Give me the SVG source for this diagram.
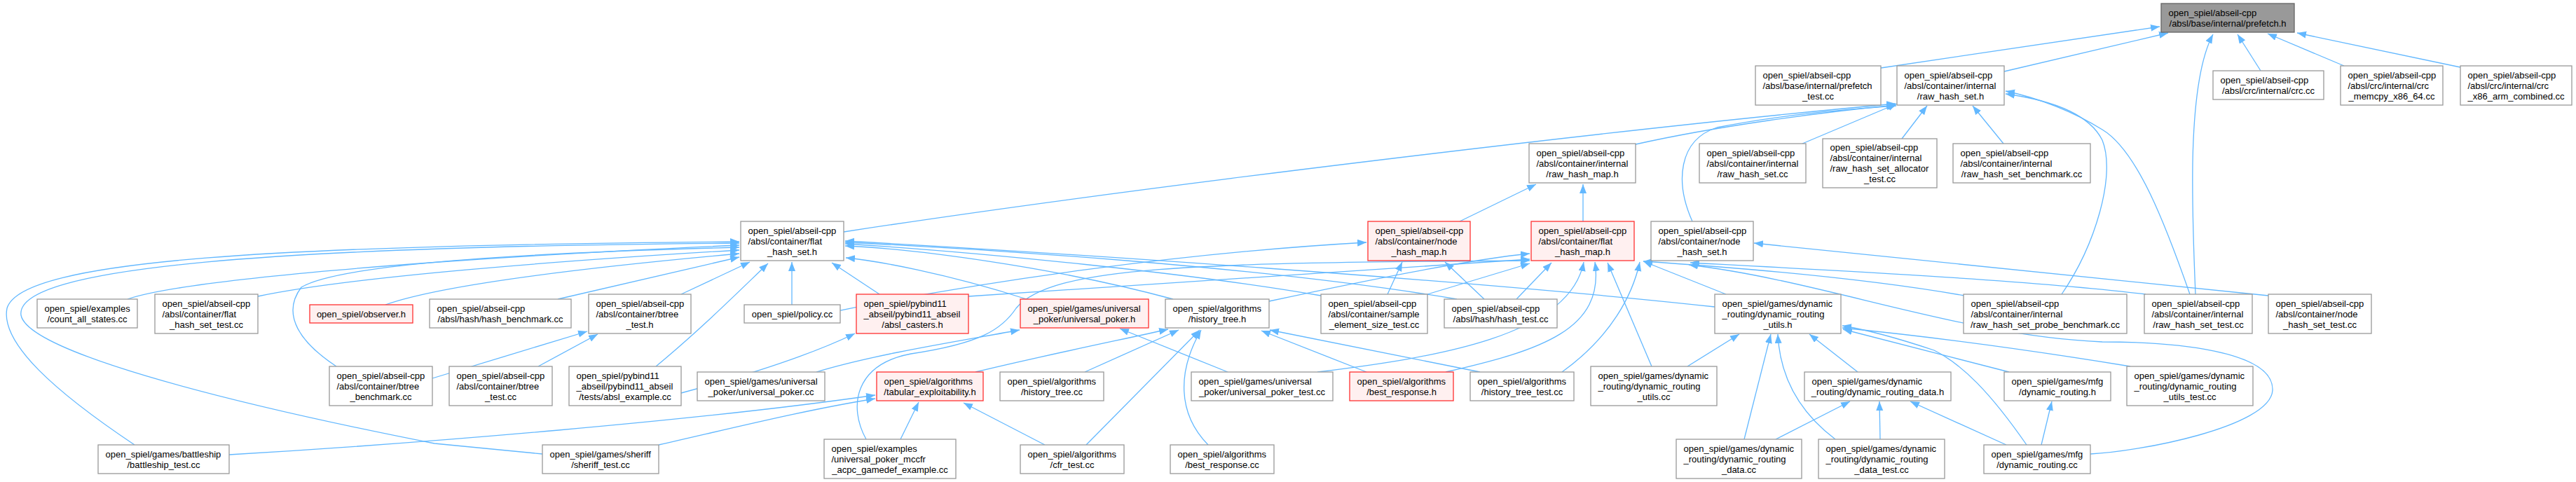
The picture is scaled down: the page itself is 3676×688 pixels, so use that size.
<svg xmlns="http://www.w3.org/2000/svg" width="3676" height="688" viewBox="0 0 3676 688">
<defs>
<style>
.n rect{fill:#ffffff;stroke:#999999;stroke-width:1.3}
.r rect{fill:#fff0f0;stroke:#ff3030;stroke-width:1.3}
.g rect{fill:#999999;stroke:#666666;stroke-width:1.3}
text{font-family:"Liberation Sans",Arial,Helvetica,sans-serif;font-size:13px;fill:#000000}
.c{text-anchor:middle}
.e path{fill:none;stroke:#63b8ff;stroke-width:1.3;marker-end:url(#a)}
</style>
<marker id="a" markerWidth="14" markerHeight="11" refX="13" refY="5" orient="auto" markerUnits="userSpaceOnUse"><path d="M0,0L13,5L0,10z" fill="#63b8ff" stroke="none"/></marker>
</defs>
<rect width="3676" height="688" fill="#ffffff"/>
<g id="edges" class="e">
<path d="M2684,97 L3082,38"/>
<path d="M2860,102 L3094,47"/>
<path d="M3133,420 C3128,300 3120,120 3158,49"/>
<path d="M3226,101 L3193,49"/>
<path d="M3345,94 L3236,48"/>
<path d="M3511,96 L3278,47"/>
<path d="M2572,205 L2707,148"/>
<path d="M2714,198 L2750,151"/>
<path d="M2859,205 L2815,151"/>
<path d="M2334,206 C2450,180 2600,160 2705,150"/>
<path d="M1204,331 C1600,270 2300,185 2705,148"/>
<path d="M2415,316 C2390,260 2395,200 2450,182 C2550,162 2650,155 2706,151"/>
<path d="M3125,420 C3090,320 3050,215 3000,185 C2960,160 2910,140 2862,130"/>
<path d="M2942,420 C2990,350 3020,250 3000,200 C2980,160 2920,142 2862,134"/>
<path d="M2083,316 L2192,263"/>
<path d="M2259,316 L2259,263"/>
<path d="M182,427 C260,400 600,370 1055,350"/>
<path d="M368,423 C500,395 800,372 1055,357"/>
<path d="M550,435 C620,410 800,385 1055,362"/>
<path d="M796,427 L1055,367"/>
<path d="M972,420 L1070,374"/>
<path d="M1130,435 L1130,374"/>
<path d="M1255,420 L1187,375"/>
<path d="M480,523 C430,490 400,450 430,410 C480,380 700,362 1055,353"/>
<path d="M192,635 C80,560 0,490 10,440 C30,370 400,350 1055,345"/>
<path d="M774,648 L620,633 C300,570 40,500 30,450 C20,380 400,352 1055,347"/>
<path d="M936,523 C1000,470 1050,420 1096,376"/>
<path d="M1465,427 C1350,390 1250,372 1207,368"/>
<path d="M1674,427 C1500,380 1300,355 1206,351"/>
<path d="M1885,422 C1700,390 1400,360 1206,348"/>
<path d="M2079,427 C1800,380 1400,355 1206,346"/>
<path d="M2447,438 C2100,400 1500,360 1206,344"/>
<path d="M1161,451 C1400,400 1700,360 1950,346"/>
<path d="M1980,420 L2001,374"/>
<path d="M2118,427 L2062,374"/>
<path d="M1811,430 C1950,400 2100,370 2183,362"/>
<path d="M1382,423 C1700,400 2000,380 2183,370"/>
<path d="M2037,420 L2183,376"/>
<path d="M2164,427 L2214,375"/>
<path d="M1880,531 C2050,510 2240,480 2260,374"/>
<path d="M2063,531 C2200,500 2290,470 2276,374"/>
<path d="M2357,523 L2294,375"/>
<path d="M2229,531 C2300,480 2330,420 2340,374"/>
<path d="M2463,420 L2345,373"/>
<path d="M327,649 C600,633 1000,600 1249,564"/>
<path d="M940,635 C1050,610 1150,585 1249,569"/>
<path d="M1285,627 L1311,574"/>
<path d="M1491,635 L1375,575"/>
<path d="M1392,531 C1500,505 1600,485 1667,470"/>
<path d="M1548,531 L1682,471"/>
<path d="M1550,635 L1712,471"/>
<path d="M1724,635 C1680,590 1680,530 1714,471"/>
<path d="M1950,531 L1800,472"/>
<path d="M2112,531 L1812,471"/>
<path d="M1752,531 L1598,469"/>
<path d="M1165,531 C1250,505 1380,485 1455,471"/>
<path d="M972,561 C1050,540 1150,510 1220,476"/>
<path d="M617,540 C700,515 780,490 838,473"/>
<path d="M768,523 L853,477"/>
<path d="M1236,627 C1210,580 1220,520 1300,505 C1400,490 1430,470 1450,440 C1500,380 1700,375 2183,372"/>
<path d="M2408,523 L2482,477"/>
<path d="M2651,531 L2582,477"/>
<path d="M2489,627 L2527,477"/>
<path d="M2619,627 C2570,590 2540,540 2537,477"/>
<path d="M2867,531 L2630,470"/>
<path d="M2892,635 C2840,560 2800,520 2760,500 C2700,480 2660,470 2629,465"/>
<path d="M3040,523 C2900,500 2750,480 2629,468"/>
<path d="M2534,627 L2640,573"/>
<path d="M2683,627 L2682,573"/>
<path d="M2863,635 L2726,573"/>
<path d="M2913,635 L2928,573"/>
<path d="M2983,648 C3050,645 3240,610 3243,557 C3245,500 3100,488 3000,488 C2800,480 2600,400 2410,378"/>
<path d="M3237,422 L2503,347"/>
<path d="M3062,420 C2900,400 2600,385 2412,375"/>
<path d="M2803,422 C2650,395 2450,380 2345,373"/>
</g>
<g id="n_prefetch" class="g"><rect x="3084" y="5" width="190" height="41"/><text x="3094.5" y="22.5">open_spiel/abseil-cpp</text><text class="c" x="3179" y="37.5">/absl/base/internal/prefetch.h</text></g>
<g id="n_prefetch_test" class="n"><rect x="2505" y="94" width="179" height="56"/><text x="2515.5" y="111.5">open_spiel/abseil-cpp</text><text x="2515.5" y="126.5">/absl/base/internal/prefetch</text><text class="c" x="2594.5" y="141.5">_test.cc</text></g>
<g id="n_rhs_h" class="n"><rect x="2707" y="94" width="153" height="56"/><text x="2717.5" y="111.5">open_spiel/abseil-cpp</text><text x="2717.5" y="126.5">/absl/container/internal</text><text class="c" x="2783.5" y="141.5">/raw_hash_set.h</text></g>
<g id="n_crc" class="n"><rect x="3158" y="101" width="158" height="41"/><text x="3168.5" y="118.5">open_spiel/abseil-cpp</text><text class="c" x="3237" y="133.5">/absl/crc/internal/crc.cc</text></g>
<g id="n_memcpy" class="n"><rect x="3340" y="94" width="146" height="56"/><text x="3350.5" y="111.5">open_spiel/abseil-cpp</text><text x="3350.5" y="126.5">/absl/crc/internal/crc</text><text class="c" x="3413" y="141.5">_memcpy_x86_64.cc</text></g>
<g id="n_x86" class="n"><rect x="3511" y="94" width="159" height="56"/><text x="3521.5" y="111.5">open_spiel/abseil-cpp</text><text x="3521.5" y="126.5">/absl/crc/internal/crc</text><text class="c" x="3590.5" y="141.5">_x86_arm_combined.cc</text></g>
<g id="n_rhm_h" class="n"><rect x="2182" y="205" width="152" height="56"/><text x="2192.5" y="222.5">open_spiel/abseil-cpp</text><text x="2192.5" y="237.5">/absl/container/internal</text><text class="c" x="2258" y="252.5">/raw_hash_map.h</text></g>
<g id="n_rhs_cc" class="n"><rect x="2425" y="205" width="152" height="56"/><text x="2435.5" y="222.5">open_spiel/abseil-cpp</text><text x="2435.5" y="237.5">/absl/container/internal</text><text class="c" x="2501" y="252.5">/raw_hash_set.cc</text></g>
<g id="n_alloc" class="n"><rect x="2601" y="198" width="163" height="70"/><text x="2611.5" y="215">open_spiel/abseil-cpp</text><text x="2611.5" y="230">/absl/container/internal</text><text x="2611.5" y="245">/raw_hash_set_allocator</text><text class="c" x="2682.5" y="260">_test.cc</text></g>
<g id="n_bench" class="n"><rect x="2787" y="205" width="196" height="56"/><text x="2797.5" y="222.5">open_spiel/abseil-cpp</text><text x="2797.5" y="237.5">/absl/container/internal</text><text class="c" x="2885" y="252.5">/raw_hash_set_benchmark.cc</text></g>
<g id="n_fhs_h" class="n"><rect x="1057" y="316" width="147" height="56"/><text x="1067.5" y="333.5">open_spiel/abseil-cpp</text><text x="1067.5" y="348.5">/absl/container/flat</text><text class="c" x="1130.5" y="363.5">_hash_set.h</text></g>
<g id="n_nhm_h" class="r"><rect x="1952" y="316" width="146" height="56"/><text x="1962.5" y="333.5">open_spiel/abseil-cpp</text><text x="1962.5" y="348.5">/absl/container/node</text><text class="c" x="2025" y="363.5">_hash_map.h</text></g>
<g id="n_fhm_h" class="r"><rect x="2185" y="316" width="147" height="56"/><text x="2195.5" y="333.5">open_spiel/abseil-cpp</text><text x="2195.5" y="348.5">/absl/container/flat</text><text class="c" x="2258.5" y="363.5">_hash_map.h</text></g>
<g id="n_nhs_h" class="n"><rect x="2356" y="316" width="146" height="56"/><text x="2366.5" y="333.5">open_spiel/abseil-cpp</text><text x="2366.5" y="348.5">/absl/container/node</text><text class="c" x="2429" y="363.5">_hash_set.h</text></g>
<g id="n_count" class="n"><rect x="53" y="427" width="143" height="41"/><text x="63.5" y="444.5">open_spiel/examples</text><text class="c" x="124.5" y="459.5">/count_all_states.cc</text></g>
<g id="n_fhs_test" class="n"><rect x="221" y="420" width="147" height="56"/><text x="231.5" y="437.5">open_spiel/abseil-cpp</text><text x="231.5" y="452.5">/absl/container/flat</text><text class="c" x="294.5" y="467.5">_hash_set_test.cc</text></g>
<g id="n_observer" class="r"><rect x="442" y="435" width="147" height="26"/><text class="c" x="515.5" y="452.5">open_spiel/observer.h</text></g>
<g id="n_hash_bench" class="n"><rect x="613" y="427" width="202" height="41"/><text x="623.5" y="444.5">open_spiel/abseil-cpp</text><text class="c" x="714" y="459.5">/absl/hash/hash_benchmark.cc</text></g>
<g id="n_btree_test_h" class="n"><rect x="840" y="420" width="146" height="56"/><text x="850.5" y="437.5">open_spiel/abseil-cpp</text><text x="850.5" y="452.5">/absl/container/btree</text><text class="c" x="913" y="467.5">_test.h</text></g>
<g id="n_policy" class="n"><rect x="1062" y="435" width="137" height="26"/><text class="c" x="1130.5" y="452.5">open_spiel/policy.cc</text></g>
<g id="n_casters" class="r"><rect x="1222" y="420" width="160" height="56"/><text x="1232.5" y="437.5">open_spiel/pybind11</text><text x="1232.5" y="452.5">_abseil/pybind11_abseil</text><text class="c" x="1302" y="467.5">/absl_casters.h</text></g>
<g id="n_up_h" class="r"><rect x="1456" y="427" width="183" height="41"/><text x="1466.5" y="444.5">open_spiel/games/universal</text><text class="c" x="1547.5" y="459.5">_poker/universal_poker.h</text></g>
<g id="n_ht_h" class="n"><rect x="1663" y="427" width="148" height="41"/><text x="1673.5" y="444.5">open_spiel/algorithms</text><text class="c" x="1737" y="459.5">/history_tree.h</text></g>
<g id="n_sample" class="n"><rect x="1885" y="420" width="152" height="56"/><text x="1895.5" y="437.5">open_spiel/abseil-cpp</text><text x="1895.5" y="452.5">/absl/container/sample</text><text class="c" x="1961" y="467.5">_element_size_test.cc</text></g>
<g id="n_hash_test" class="n"><rect x="2061" y="427" width="161" height="41"/><text x="2071.5" y="444.5">open_spiel/abseil-cpp</text><text class="c" x="2141.5" y="459.5">/absl/hash/hash_test.cc</text></g>
<g id="n_dru_h" class="n"><rect x="2447" y="420" width="180" height="56"/><text x="2457.5" y="437.5">open_spiel/games/dynamic</text><text x="2457.5" y="452.5">_routing/dynamic_routing</text><text class="c" x="2537" y="467.5">_utils.h</text></g>
<g id="n_probe" class="n"><rect x="2802" y="420" width="233" height="56"/><text x="2812.5" y="437.5">open_spiel/abseil-cpp</text><text x="2812.5" y="452.5">/absl/container/internal</text><text class="c" x="2918.5" y="467.5">/raw_hash_set_probe_benchmark.cc</text></g>
<g id="n_rhs_test" class="n"><rect x="3060" y="420" width="154" height="56"/><text x="3070.5" y="437.5">open_spiel/abseil-cpp</text><text x="3070.5" y="452.5">/absl/container/internal</text><text class="c" x="3137" y="467.5">/raw_hash_set_test.cc</text></g>
<g id="n_nhs_test" class="n"><rect x="3237" y="420" width="147" height="56"/><text x="3247.5" y="437.5">open_spiel/abseil-cpp</text><text x="3247.5" y="452.5">/absl/container/node</text><text class="c" x="3310.5" y="467.5">_hash_set_test.cc</text></g>
<g id="n_btree_bench" class="n"><rect x="470" y="523" width="147" height="56"/><text x="480.5" y="540.5">open_spiel/abseil-cpp</text><text x="480.5" y="555.5">/absl/container/btree</text><text class="c" x="543.5" y="570.5">_benchmark.cc</text></g>
<g id="n_btree_test_cc" class="n"><rect x="641" y="523" width="147" height="56"/><text x="651.5" y="540.5">open_spiel/abseil-cpp</text><text x="651.5" y="555.5">/absl/container/btree</text><text class="c" x="714.5" y="570.5">_test.cc</text></g>
<g id="n_absl_example" class="n"><rect x="812" y="523" width="160" height="56"/><text x="822.5" y="540.5">open_spiel/pybind11</text><text x="822.5" y="555.5">_abseil/pybind11_abseil</text><text class="c" x="892" y="570.5">/tests/absl_example.cc</text></g>
<g id="n_up_cc" class="n"><rect x="995" y="531" width="182" height="41"/><text x="1005.5" y="548.5">open_spiel/games/universal</text><text class="c" x="1086" y="563.5">_poker/universal_poker.cc</text></g>
<g id="n_tab" class="r"><rect x="1251" y="531" width="152" height="41"/><text x="1261.5" y="548.5">open_spiel/algorithms</text><text class="c" x="1327" y="563.5">/tabular_exploitability.h</text></g>
<g id="n_ht_cc" class="n"><rect x="1427" y="531" width="148" height="41"/><text x="1437.5" y="548.5">open_spiel/algorithms</text><text class="c" x="1501" y="563.5">/history_tree.cc</text></g>
<g id="n_up_test" class="n"><rect x="1700" y="531" width="202" height="41"/><text x="1710.5" y="548.5">open_spiel/games/universal</text><text class="c" x="1801" y="563.5">_poker/universal_poker_test.cc</text></g>
<g id="n_br_h" class="r"><rect x="1926" y="531" width="148" height="41"/><text x="1936.5" y="548.5">open_spiel/algorithms</text><text class="c" x="2000" y="563.5">/best_response.h</text></g>
<g id="n_ht_test" class="n"><rect x="2098" y="531" width="148" height="41"/><text x="2108.5" y="548.5">open_spiel/algorithms</text><text class="c" x="2172" y="563.5">/history_tree_test.cc</text></g>
<g id="n_dru_cc" class="n"><rect x="2270" y="523" width="180" height="56"/><text x="2280.5" y="540.5">open_spiel/games/dynamic</text><text x="2280.5" y="555.5">_routing/dynamic_routing</text><text class="c" x="2360" y="570.5">_utils.cc</text></g>
<g id="n_drd_h" class="n"><rect x="2575" y="531" width="209" height="41"/><text x="2585.5" y="548.5">open_spiel/games/dynamic</text><text class="c" x="2679.5" y="563.5">_routing/dynamic_routing_data.h</text></g>
<g id="n_mfg_h" class="n"><rect x="2860" y="531" width="152" height="41"/><text x="2870.5" y="548.5">open_spiel/games/mfg</text><text class="c" x="2936" y="563.5">/dynamic_routing.h</text></g>
<g id="n_dru_test" class="n"><rect x="3035" y="523" width="180" height="56"/><text x="3045.5" y="540.5">open_spiel/games/dynamic</text><text x="3045.5" y="555.5">_routing/dynamic_routing</text><text class="c" x="3125" y="570.5">_utils_test.cc</text></g>
<g id="n_battleship" class="n"><rect x="140" y="635" width="187" height="41"/><text x="150.5" y="652.5">open_spiel/games/battleship</text><text class="c" x="233.5" y="667.5">/battleship_test.cc</text></g>
<g id="n_sheriff" class="n"><rect x="774" y="635" width="166" height="41"/><text x="784.5" y="652.5">open_spiel/games/sheriff</text><text class="c" x="857" y="667.5">/sheriff_test.cc</text></g>
<g id="n_mccfr" class="n"><rect x="1176" y="627" width="188" height="56"/><text x="1186.5" y="644.5">open_spiel/examples</text><text x="1186.5" y="659.5">/universal_poker_mccfr</text><text class="c" x="1270" y="674.5">_acpc_gamedef_example.cc</text></g>
<g id="n_cfr" class="n"><rect x="1456" y="635" width="148" height="41"/><text x="1466.5" y="652.5">open_spiel/algorithms</text><text class="c" x="1530" y="667.5">/cfr_test.cc</text></g>
<g id="n_br_cc" class="n"><rect x="1670" y="635" width="148" height="41"/><text x="1680.5" y="652.5">open_spiel/algorithms</text><text class="c" x="1744" y="667.5">/best_response.cc</text></g>
<g id="n_drd_cc" class="n"><rect x="2392" y="627" width="179" height="56"/><text x="2402.5" y="644.5">open_spiel/games/dynamic</text><text x="2402.5" y="659.5">_routing/dynamic_routing</text><text class="c" x="2481.5" y="674.5">_data.cc</text></g>
<g id="n_drd_test" class="n"><rect x="2595" y="627" width="180" height="56"/><text x="2605.5" y="644.5">open_spiel/games/dynamic</text><text x="2605.5" y="659.5">_routing/dynamic_routing</text><text class="c" x="2685" y="674.5">_data_test.cc</text></g>
<g id="n_mfg_cc" class="n"><rect x="2831" y="635" width="152" height="41"/><text x="2841.5" y="652.5">open_spiel/games/mfg</text><text class="c" x="2907" y="667.5">/dynamic_routing.cc</text></g>
</svg>
